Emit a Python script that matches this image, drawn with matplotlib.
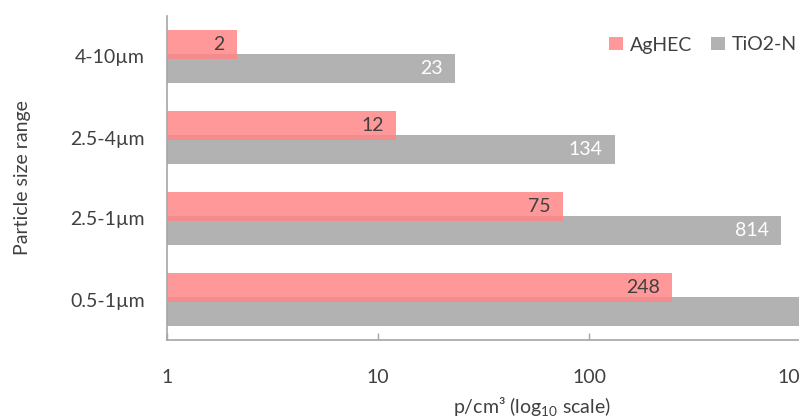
import numpy as np
import matplotlib
matplotlib.use('Agg')
import matplotlib.pyplot as plt

plt.rcParams['font.family'] = ['Lato', 'DejaVu Sans']
plt.rcParams['mathtext.fontset'] = 'custom'
plt.rcParams['mathtext.rm'] = 'Lato'
plt.rcParams['mathtext.it'] = 'Lato'

# ── 数据 (自下而上) ──
categories = ['0.5-1µm', '2.5-1µm', '2.5-4µm', '4-10µm']
aghec = [248, 75.3, 12.2, 2.15]
tio2n = [1500, 813, 133, 23.2]
tio2n_labels = ['', '814', '134', '23']
series_names = ['AgHEC', 'TiO2-N']

text_col = '#404040'
pink = '#FF8787'
gray = '#B2B2B2'
fs = 14

fig = plt.figure(figsize=(7.99, 4.19), dpi=100)
ax = fig.add_axes([167/799, 79/419, 633/799, 324/419])

y = np.arange(len(categories))
off, h = 0.148, 0.358
ax.barh(y - off, tio2n, height=h, left=0, color=gray, zorder=2, label=series_names[1])
ax.barh(y + off, aghec, height=h, left=0, color=pink, alpha=0.85, zorder=3,
        label=series_names[0])

ax.set_xscale('log')
ax.set_xlim(1, 1000)
ax.set_ylim(-0.5, 3.5)

# 数值标签
for yi, v in zip(y, aghec):
    ax.annotate(f'{v:.0f}', (v, yi + off), xytext=(-9, 0), textcoords='offset points',
                ha='right', va='center', fontsize=fs, color=text_col, zorder=5)
for yi, v, lab in zip(y, tio2n, tio2n_labels):
    if lab:
        ax.annotate(lab, (v, yi - off), xytext=(-9, 0), textcoords='offset points',
                    ha='right', va='center', fontsize=fs, color='white', zorder=5)

ax.set_yticks(y)
ax.set_yticklabels(categories)
ax.set_xticks([1, 10, 100, 1000])
ax.set_xticklabels(['1', '10', '100', '1000'])
ax.xaxis.set_minor_locator(matplotlib.ticker.NullLocator())
ax.tick_params(axis='y', length=0, pad=16, labelsize=fs, labelcolor=text_col)
ax.tick_params(axis='x', direction='in', length=5, width=1, color='#A6A6A6',
               pad=21, labelsize=fs, labelcolor=text_col)

for s in ['top', 'right']:
    ax.spines[s].set_visible(False)
for s in ['left', 'bottom']:
    ax.spines[s].set_color('#A6A6A6')
    ax.spines[s].set_linewidth(1.2)

ax.set_xlabel('p/cm³ (log$_{10}$ scale)', fontsize=fs, color=text_col)
ax.xaxis.set_label_coords(0.577, -0.17)
ax.set_ylabel('Particle size range', fontsize=fs, color=text_col)
ax.yaxis.set_label_coords(-0.215, 0.5)

handles, labels = ax.get_legend_handles_labels()
fig.legend(handles[::-1], labels[::-1], loc='center right',
           bbox_to_anchor=(797/799, 1 - 45/419), ncol=2, frameon=False,
           fontsize=fs, handlelength=0.7, handleheight=0.7,
           handletextpad=0.35, columnspacing=1.0, labelcolor=text_col,
           borderaxespad=0, borderpad=0)

plt.savefig('out.png', dpi=100)
plt.close()
